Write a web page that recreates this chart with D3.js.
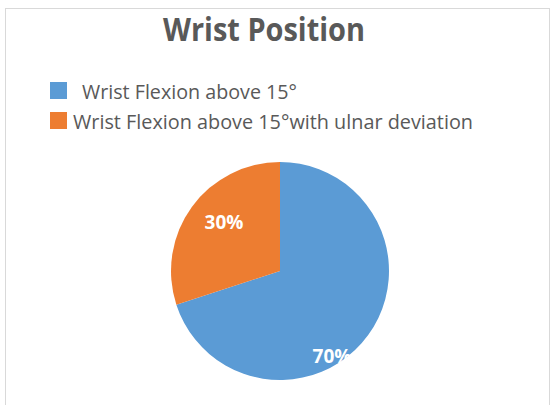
<!DOCTYPE html>
<html><head><meta charset="utf-8">
<script src="https://cdn.jsdelivr.net/npm/d3@7"></script>
<style>body{margin:0;background:#fff}svg{display:block}</style>
</head><body>
<svg id="c" width="554" height="405"></svg>
<script>
const categories = ["Wrist Flexion above 15°", "Wrist Flexion above 15°with ulnar deviation"];
const values = [70, 30];
const labels = ["70%", "30%"];
const colors = ["#5B9BD5", "#ED7D31"];
const title = "Wrist Position";

const svg = d3.select("#c");
const font = "'Open Sans', sans-serif";
svg.append("rect").attr("x",5.5).attr("y",8.5).attr("width",544).attr("height",400)
  .attr("fill","#fff").attr("stroke","#d9d9d9");
svg.append("text").attr("x",163).attr("y",41)
  .attr("font-family",font).attr("font-weight","bold")
  .attr("font-size",32).attr("fill","#595959")
  .attr("textLength",202).attr("lengthAdjust","spacingAndGlyphs").text(title);

const leg = svg.append("g");
const legX = [82, 73], legW = [215, 400];
categories.forEach((c,i)=>{
  const y = 82 + i*30;
  leg.append("rect").attr("x",50).attr("y",y).attr("width",17).attr("height",17).attr("fill",colors[i]);
  leg.append("text").attr("x",legX[i]).attr("y",y+17).attr("font-family",font)
    .attr("font-size",20).attr("fill","#595959")
    .attr("textLength",legW[i]).attr("lengthAdjust","spacingAndGlyphs").text(c);
});

const cx=280, cy=271, r=109;
const pie = d3.pie().sort(null).value(d=>d)(values);
const arc = d3.arc().innerRadius(0).outerRadius(r);
const g = svg.append("g").attr("transform",`translate(${cx},${cy})`);
g.selectAll("path").data(pie).join("path").attr("d",arc).attr("fill",(d,i)=>colors[i]);
const labelPos = [[52,85],[-56,-49]];
g.selectAll("text.l").data(pie).join("text").attr("class","l")
  .attr("x",(d,i)=>labelPos[i][0]).attr("y",(d,i)=>labelPos[i][1])
  .attr("text-anchor","middle").attr("dominant-baseline","central")
  .attr("font-family",font).attr("font-weight","bold")
  .attr("font-size",19).attr("fill","#fff").text((d,i)=>labels[i]);
</script>
</body></html>
